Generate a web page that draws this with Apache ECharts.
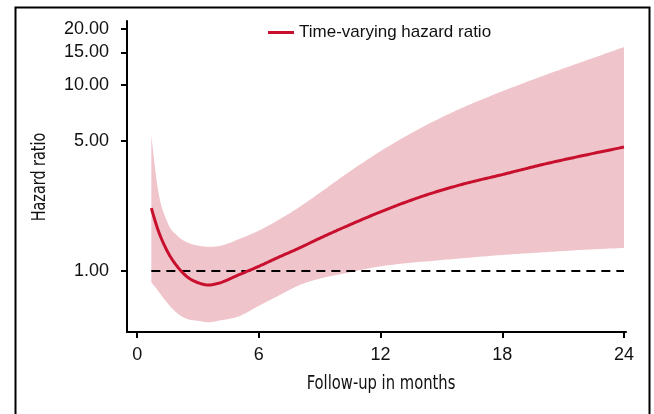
<!DOCTYPE html>
<html>
<head>
<meta charset="utf-8">
<script src="https://cdn.jsdelivr.net/npm/echarts@6/dist/echarts.min.js"></script>
<style>html,body{margin:0;padding:0;background:#fff}#c{width:654px;height:414px}</style>
</head>
<body>
<div id="c"></div>
<script>
const months = [0.7, 1, 1.5, 2, 2.5, 3, 3.5, 4, 5, 6, 7, 8, 9, 10, 12, 14, 16, 18, 20, 22, 24];
const hazardRatio = [2.18, 1.70, 1.27, 1.05, 0.925, 0.865, 0.841, 0.859, 0.953, 1.06, 1.19, 1.33, 1.50, 1.68, 2.08, 2.51, 2.92, 3.30, 3.74, 4.18, 4.64];
const upperCI = [5.38, 2.86, 1.82, 1.54, 1.42, 1.37, 1.35, 1.36, 1.48, 1.65, 1.89, 2.21, 2.63, 3.15, 4.41, 5.89, 7.52, 9.25, 11.2, 13.4, 16.0];
const lowerCI = [0.87, 0.79, 0.67, 0.59, 0.55, 0.54, 0.53, 0.54, 0.57, 0.65, 0.74, 0.84, 0.91, 0.96, 1.06, 1.12, 1.17, 1.22, 1.26, 1.30, 1.33];
const xTicks = [0, 6, 12, 18, 24];
const yTicks = [1, 5, 10, 15, 20];
const refValue = 1;
const xTitle = 'Follow-up in months';
const yTitle = 'Hazard ratio';
const seriesName = 'Time-varying hazard ratio';

const chart = echarts.init(document.getElementById('c'), null, {renderer: 'canvas'});
const condensed = "'Liberation Sans Narrow', 'DejaVu Sans Condensed', sans-serif";
const regular = "'Liberation Sans', Arial, sans-serif";

// smooth drawing of a curve through pixel points (cubic Hermite in x, non-uniform spacing)
function smoothPts(p) {
  const n = p.length;
  const h = [], d = [], m = [];
  for (let i = 0; i < n - 1; i++) { h[i] = p[i + 1][0] - p[i][0]; d[i] = (p[i + 1][1] - p[i][1]) / h[i]; }
  for (let i = 1; i < n - 1; i++) m[i] = (h[i] * d[i - 1] + h[i - 1] * d[i]) / (h[i - 1] + h[i]);
  m[0] = 1.5 * d[0] - 0.5 * m[1];
  m[n - 1] = 1.5 * d[n - 2] - 0.5 * m[n - 2];
  const out = [];
  for (let i = 0; i < n - 1; i++) {
    for (let s = 0; s < 16; s++) {
      const t = s / 16, t2 = t * t, t3 = t2 * t;
      const y = (2 * t3 - 3 * t2 + 1) * p[i][1] + (t3 - 2 * t2 + t) * h[i] * m[i] + (-2 * t3 + 3 * t2) * p[i + 1][1] + (t3 - t2) * h[i] * m[i + 1];
      out.push([p[i][0] + t * h[i], y]);
    }
  }
  out.push(p[n - 1]);
  return out;
}

const bandData = months.map((m, i) => [m, upperCI[i], lowerCI[i]]);
const lineData = months.map((m, i) => [m, hazardRatio[i]]);
const option = {
  animation: false,
  backgroundColor: '#fff',
  graphic: [
    {
      type: 'rect', left: 13, top: 5, silent: true,
      shape: {x: 0, y: 0, width: 634, height: 440},
      style: {fill: 'none', stroke: '#000', lineWidth: 2}
    },
    {
      type: 'text', x: 381, y: 384, scaleX: 0.82, silent: true,
      style: {text: xTitle, font: '20px ' + condensed, fill: '#111', align: 'center', verticalAlign: 'middle'}
    },
    {
      type: 'text', x: 40, y: 177, rotation: Math.PI / 2, scaleX: 0.8, silent: true,
      style: {text: yTitle, font: '20px ' + condensed, fill: '#111', align: 'center', verticalAlign: 'middle'}
    }
  ],
  grid: {left: 127, right: 28, top: 21, bottom: 82},
  legend: {
    data: [seriesName],
    top: 19, left: 263,
    itemWidth: 26, itemHeight: 3,
    itemGap: 8,
    icon: 'rect',
    textStyle: {fontFamily: regular, fontSize: 17, color: '#111'}
  },
  xAxis: {
    type: 'value', min: -0.5, max: 24.1,
    axisLine: {show: true, onZero: false, lineStyle: {color: '#000', width: 2}},
    axisTick: {show: true, length: 6, lineStyle: {color: '#000', width: 2}, customValues: xTicks},
    axisLabel: {customValues: xTicks, fontFamily: regular, fontSize: 18, color: '#111', margin: 14},
    splitLine: {show: false}
  },
  yAxis: {
    type: 'log', logBase: 10, min: 0.47, max: 22.1,
    axisLine: {show: true, onZero: false, lineStyle: {color: '#000', width: 2}},
    axisTick: {show: true, length: 6, lineStyle: {color: '#000', width: 2}, customValues: yTicks},
    axisLabel: {customValues: yTicks, formatter: v => Number(v).toFixed(2), fontFamily: regular, fontSize: 18, color: '#111', margin: 18},
    splitLine: {show: false}
  },
  series: [
    {
      name: 'CI band', type: 'custom', silent: true, z: 1,
      data: bandData,
      encode: {x: 0, y: [1, 2]},
      renderItem: function (params, api) {
        if (params.dataIndex !== 0) return null;
        const up = bandData.map(d => api.coord([d[0], d[1]]));
        const lo = bandData.map(d => api.coord([d[0], d[2]]));
        const pts = smoothPts(up).concat(smoothPts(lo).reverse());
        return {type: 'polygon', shape: {points: pts}, style: {fill: '#efc4cb', stroke: 'none'}};
      }
    },
    {
      name: 'Reference', type: 'line', z: 3, silent: true,
      data: [[months[0], refValue], [months[months.length - 1], refValue]],
      symbol: 'none',
      lineStyle: {color: '#000', width: 2, type: [9, 6]}
    },
    {
      name: 'HR curve', type: 'custom', silent: true, z: 4,
      data: lineData,
      encode: {x: 0, y: 1},
      renderItem: function (params, api) {
        if (params.dataIndex !== 0) return null;
        const pts = smoothPts(lineData.map(d => api.coord(d)));
        return {type: 'polyline', shape: {points: pts}, style: {stroke: '#c8102e', lineWidth: 3, fill: 'none', lineJoin: 'round', lineCap: 'butt'}};
      }
    },
    {
      // legend entry for the curve (drawn by the custom series above)
      name: seriesName, type: 'line', z: 0,
      data: [],
      symbol: 'none',
      itemStyle: {color: '#c8102e'},
      lineStyle: {color: '#c8102e', width: 3}
    }
  ]
};
chart.setOption(option);
</script>
</body>
</html>
